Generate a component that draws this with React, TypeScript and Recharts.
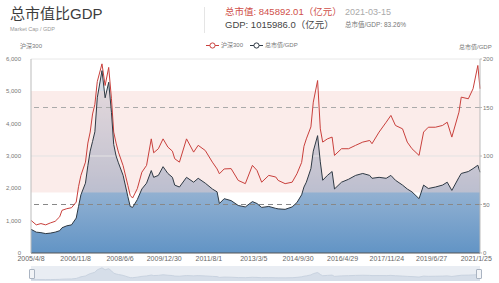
import React from 'react';
import {
  ComposedChart,
  AreaChart,
  Area,
  Line,
  XAxis,
  YAxis,
  ReferenceArea,
  ReferenceLine,
} from 'recharts';

// dates of the readings
const dates = [
  '2005/4/8', '2005/6/15', '2005/8/15', '2005/10/15', '2005/12/15', '2006/2/15', '2006/4/15', '2006/5/15',
  '2006/7/15', '2006/9/15', '2006/11/15', '2006/12/15', '2007/1/15', '2007/3/15', '2007/4/15', '2007/5/15',
  '2007/6/15', '2007/7/15', '2007/8/15', '2007/10/15', '2007/11/25', '2008/1/10', '2008/2/15', '2008/3/15',
  '2008/4/15', '2008/5/15', '2008/7/15', '2008/9/15', '2008/10/15', '2008/11/15', '2009/1/15', '2009/3/15',
  '2009/5/15', '2009/7/15', '2009/8/15', '2009/10/15', '2009/12/15', '2010/2/15', '2010/4/15', '2010/5/15',
  '2010/7/15', '2010/10/15', '2011/1/15', '2011/3/15', '2011/6/15', '2011/9/15', '2011/11/15', '2011/12/15',
  '2012/2/15', '2012/5/15', '2012/8/15', '2012/11/15', '2013/2/15', '2013/4/15', '2013/6/15', '2013/9/15',
  '2013/12/15', '2014/1/15', '2014/4/15', '2014/7/15', '2014/9/15', '2014/11/15', '2014/12/15', '2015/1/15',
  '2015/3/15', '2015/4/15', '2015/6/10', '2015/7/15', '2015/8/15', '2015/10/15', '2015/12/15', '2016/1/15',
  '2016/4/15', '2016/7/15', '2016/10/15', '2017/1/15', '2017/4/15', '2017/5/15', '2017/8/15', '2017/11/15',
  '2018/1/15', '2018/3/15', '2018/6/15', '2018/8/15', '2018/10/15', '2019/1/15', '2019/3/15', '2019/5/15',
  '2019/8/15', '2019/11/15', '2020/1/15', '2020/3/15', '2020/6/15', '2020/7/15', '2020/10/15', '2020/12/15',
  '2021/2/15', '2021/3/15',
];

// 沪深300 (left axis)
const hs300 = [
  1010, 870, 910, 870, 930, 980, 1120, 1320,
  1370, 1400, 1575, 2050, 2400, 2810, 3400, 3740,
  4300, 4600, 5300, 5850, 5180, 5740, 4770, 3740,
  3400, 3120, 2700, 2090, 1783, 1700, 1990, 2500,
  2710, 3530, 3100, 3225, 3530, 3275, 3150, 2915,
  2810, 3530, 3120, 3330, 3170, 2810, 2600, 2450,
  2600, 2610, 2245, 2145, 2710, 2555, 2190, 2400,
  2350, 2245, 2145, 2190, 2450, 2800, 3300, 3530,
  3900, 4665, 5335, 3840, 3430, 3530, 3585, 3018,
  3225, 3225, 3330, 3430, 3480, 3380, 3740, 4045,
  4255, 3945, 3840, 3430, 3225, 3018, 3740, 3890,
  3890, 3945, 4045, 3585, 4355, 4820, 4770, 5080,
  5800, 5080,
];

// 总市值/GDP % (right axis)
const ratio = [
  24.5, 21.5, 21, 20, 20.5, 21.5, 23, 26,
  28, 29, 36, 48, 60, 72, 90, 105,
  115, 125, 160, 188, 160, 176, 145, 112,
  100, 93, 80, 58, 48, 47, 55, 66,
  72, 85, 78, 80, 89, 82, 78, 70,
  68, 78, 73, 77, 72, 66, 63, 51,
  56, 54, 49, 47.5, 53, 51, 47, 48,
  46, 45.5, 45, 47.5, 52, 60, 68, 73,
  87, 105, 121, 94, 75, 80, 84, 66,
  73, 76, 80, 82, 80, 77, 78, 77,
  80, 75, 70, 66, 63, 56, 70, 66.5,
  68, 70, 73, 64.5, 78, 82, 84, 87,
  90.5, 83.26,
];

const xTicks = [
  '2005/4/8', '2006/11/8', '2008/6/6', '2009/12/30', '2011/8/1', '2013/3/5',
  '2014/9/30', '2016/4/29', '2017/11/24', '2019/6/27', '2021/1/25',
];
const leftTicks = [0, 1000, 2000, 3000, 4000, 5000, 6000];
const rightTicks = [0, 50, 100, 150, 200];

const toTime = (s: string) => {
  const [y, m, d] = s.split('/').map(Number);
  return Date.UTC(y, m - 1, d);
};

const data = dates.map((d, i) => ({ t: toTime(d), hs300: hs300[i], ratio: ratio[i] }));
const tickTimes = xTicks.map(toTime);
const labelOf = (v: number) => xTicks[tickTimes.indexOf(v)] ?? '';

const font = '"Liberation Sans", "Noto Sans CJK SC", sans-serif';
const RED = '#c9403c';
const DARK = '#2e3944';

const LegendItem = ({ color, label }: { color: string; label: string }) => (
  <span style={{ display: 'inline-flex', alignItems: 'center', marginRight: 7 }}>
    <svg width={13} height={7}>
      <line x1={0} y1={3.5} x2={13} y2={3.5} stroke={color} strokeWidth={1} />
      <circle cx={6.5} cy={3.5} r={2.6} fill="#fff" stroke={color} strokeWidth={1} />
    </svg>
    <span style={{ marginLeft: 2, color: '#777' }}>{label}</span>
  </span>
);

export default function App() {
  return (
    <div style={{ position: 'absolute', left: 0, top: 0, width: 499, height: 283, background: '#fff', fontFamily: font, overflow: 'hidden' }}>
      <div style={{ position: 'absolute', left: 10, top: 4, fontSize: 15, color: '#3d3d3d', lineHeight: '20px' }}>总市值比GDP</div>
      <div style={{ position: 'absolute', left: 10, top: 25, fontSize: 5.5, color: '#999', lineHeight: '8px' }}>Market Cap / GDP</div>
      <div style={{ position: 'absolute', left: 204, top: 7, width: 1, height: 26, background: '#e5e5e5' }} />
      <div style={{ position: 'absolute', left: 225, top: 5, fontSize: 9.5, color: '#d0504a', lineHeight: '14px', whiteSpace: 'nowrap' }}>
        总市值: 845892.01（亿元）
      </div>
      <div style={{ position: 'absolute', left: 345, top: 5, fontSize: 9, color: '#aaa', lineHeight: '14px' }}>2021-03-15</div>
      <div style={{ position: 'absolute', left: 225, top: 18, fontSize: 9.5, color: '#444', lineHeight: '14px', whiteSpace: 'nowrap' }}>
        GDP: 1015986.0（亿元）
      </div>
      <div style={{ position: 'absolute', left: 345, top: 20, fontSize: 6.5, color: '#777', lineHeight: '10px', whiteSpace: 'nowrap' }}>
        总市值/GDP: 83.26%
      </div>
      <div style={{ position: 'absolute', left: 206, top: 41, fontSize: 6, lineHeight: '8px', display: 'flex' }}>
        <LegendItem color={RED} label="沪深300" />
        <LegendItem color={DARK} label="总市值/GDP" />
      </div>
      <div style={{ position: 'absolute', left: 20, top: 42, fontSize: 6, color: '#777', lineHeight: '8px' }}>沪深300</div>
      <div style={{ position: 'absolute', left: 459, top: 43, fontSize: 6, color: '#777', lineHeight: '8px' }}>总市值/GDP</div>

      <div style={{ position: 'absolute', left: 0, top: 0 }}>
        <ComposedChart width={499} height={283} data={data} margin={{ top: 59, right: 0, left: 0, bottom: 18 }}>
          <defs>
            <linearGradient id="areaFill" x1="0" y1="0" x2="0" y2="1">
              <stop offset="0%" stopColor="#dfe3ea" />
              <stop offset="55%" stopColor="#a3bad4" />
              <stop offset="75%" stopColor="#86aacf" />
              <stop offset="100%" stopColor="#6294c5" />
            </linearGradient>
          </defs>
          <XAxis
            dataKey="t"
            type="number"
            scale="time"
            domain={[toTime('2005/4/8'), toTime('2021/3/15')]}
            ticks={tickTimes}
            tickFormatter={labelOf}
            interval={0}
            height={12}
            tickLine={false}
            tickSize={0}
            tickMargin={3}
            axisLine={{ stroke: '#555' }}
            tick={{ fontSize: 7, fill: '#666', fontFamily: font }}
          />
          <YAxis
            yAxisId="left"
            orientation="left"
            width={31}
            domain={[0, 6000]}
            ticks={leftTicks}
            interval={0}
            tickFormatter={(v: number) => v.toLocaleString('en-US')}
            tickLine={false}
            tickMargin={4}
            axisLine={{ stroke: '#bbb' }}
            tick={{ fontSize: 6, fill: '#777', fontFamily: font }}
          />
          <YAxis
            yAxisId="right"
            orientation="right"
            width={19}
            domain={[0, 200]}
            ticks={rightTicks}
            interval={0}
            tickLine={{ stroke: '#bbb' }}
            tickSize={2}
            tickMargin={1}
            axisLine={{ stroke: '#bbb' }}
            tick={{ fontSize: 6, fill: '#777', fontFamily: font, textAnchor: 'start' }}
          />
          <Area
            yAxisId="right"
            dataKey="ratio"
            type="linear"
            stroke="none"
            fill="url(#areaFill)"
            fillOpacity={1}
            isAnimationActive={false}
          />
          <ReferenceArea yAxisId="right" y1={62.5} y2={167} fill="#f6d2cc" fillOpacity={0.42} stroke="none" />
          <ReferenceLine yAxisId="right" y={200} stroke="#e8e8e8" />
          <ReferenceLine yAxisId="right" y={100} stroke="#e3e3e3" />
          <ReferenceLine yAxisId="right" y={150} stroke="#aaa" strokeDasharray="5 4" />
          <ReferenceLine yAxisId="right" y={50} stroke="#888" strokeDasharray="5 4" />
          <Line
            yAxisId="left"
            dataKey="hs300"
            type="linear"
            stroke={RED}
            strokeWidth={1}
            dot={false}
            isAnimationActive={false}
          />
          <Line
            yAxisId="right"
            dataKey="ratio"
            type="linear"
            stroke={DARK}
            strokeWidth={1}
            dot={false}
            isAnimationActive={false}
          />
        </ComposedChart>
      </div>

      <div style={{ position: 'absolute', left: 31, top: 266, width: 449, height: 15, background: '#e9edf3' }}>
        <AreaChart width={449} height={15} data={data} margin={{ top: 1, right: 0, left: 0, bottom: 0 }}>
          <XAxis dataKey="t" type="number" domain={['dataMin', 'dataMax']} hide />
          <YAxis domain={[0, 200]} hide />
          <Area dataKey="ratio" type="linear" stroke="#c9d3e0" fill="#d6dee9" fillOpacity={1} isAnimationActive={false} />
        </AreaChart>
        <div style={{ position: 'absolute', left: -2, top: 3, width: 4, height: 8, border: '1px solid #aab4c2', background: '#f2f4f7', borderRadius: 1 }} />
        <div style={{ position: 'absolute', right: -2, top: 3, width: 4, height: 8, border: '1px solid #aab4c2', background: '#f2f4f7', borderRadius: 1 }} />
      </div>
    </div>
  );
}
